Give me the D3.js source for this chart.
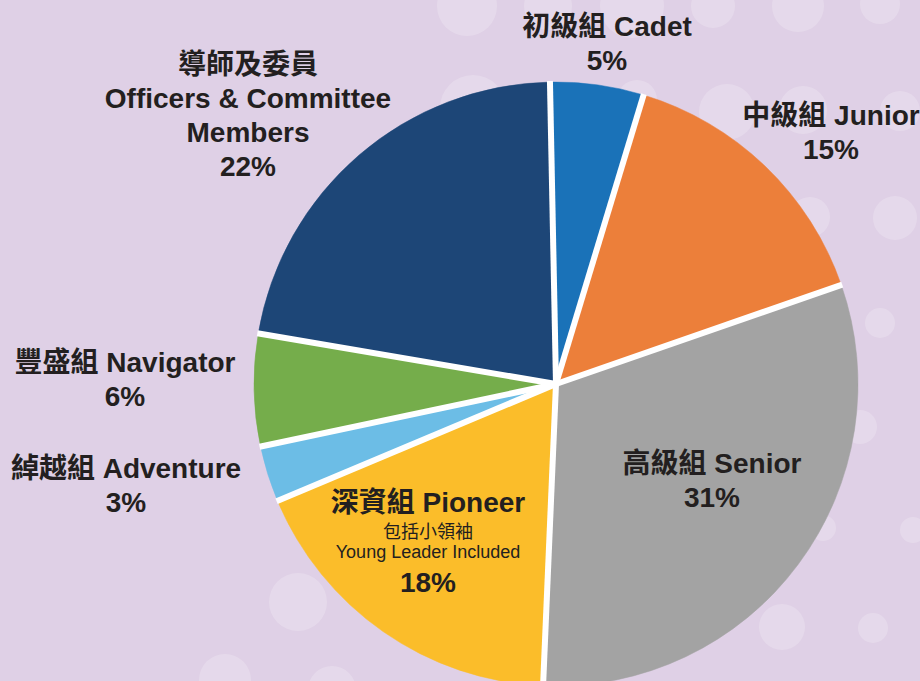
<!DOCTYPE html>
<html>
<head>
<meta charset="utf-8">
<script src="https://cdn.jsdelivr.net/npm/d3@7"></script>
<style>
  html, body { margin: 0; padding: 0; background: #dfd0e6; }
  svg { display: block; }
  text { font-family: "Liberation Sans", "Noto Sans CJK TC", sans-serif; fill: #231f20; }
</style>
</head>
<body>
<svg id="chart" width="920" height="681"></svg>
<script>
// membership share by section (percent)
const categories = ['Cadet', 'Junior', 'Senior', 'Pioneer', 'Adventure', 'Navigator', 'Officers'];
const namesZh = ['初級組', '中級組', '高級組', '深資組', '綽越組', '豐盛組', '導師及委員'];
const namesEn = ['Cadet', 'Junior', 'Senior', 'Pioneer', 'Adventure', 'Navigator', 'Officers & Committee Members'];
const values = [5, 15, 31, 18, 3, 6, 22];
const colors = ['#1a72b8', '#ec7f3a', '#a3a3a3', '#fbbd2a', '#6cbde6', '#75ad4b', '#1d4677'];

// decorative background bubbles
const bubbles = [
  [467, 6, 30], [548, 6, 24], [632, 6, 32], [713, 6, 22], [798, 6, 26], [880, 4, 20],
  [473, 108, 33], [637, 100, 20], [727, 112, 28], [803, 110, 24], [900, 111, 20],
  [810, 217, 20], [895, 218, 22], [880, 323, 15], [860, 427, 17], [823, 528, 13],
  [913, 530, 13], [782, 627, 23], [873, 628, 15], [298, 602, 29], [225, 680, 26], [332, 690, 24]
];

const W = 920, H = 681;
const cx = 556, cy = 384, R = 302;

const svg = d3.select('#chart');

svg.append('rect').attr('width', W).attr('height', H).attr('fill', '#dfd0e6');

svg.append('g')
  .selectAll('circle')
  .data(bubbles)
  .enter()
  .append('circle')
  .attr('cx', d => d[0])
  .attr('cy', d => d[1])
  .attr('r', d => d[2])
  .attr('fill', '#ffffff')
  .attr('fill-opacity', 0.2);

const rows = categories.map((c, i) => ({ key: c, value: values[i], color: colors[i], zh: namesZh[i], en: namesEn[i] }));

// pie starts a little left of 12 o'clock
const start = -0.02;
const pie = d3.pie().sort(null).value(d => d.value).startAngle(start).endAngle(start + 2 * Math.PI);
const arc = d3.arc().innerRadius(0).outerRadius(R);
const arcs = pie(rows);

const g = svg.append('g').attr('transform', `translate(${cx},${cy})`);

g.selectAll('path')
  .data(arcs)
  .enter()
  .append('path')
  .attr('d', arc)
  .attr('fill', d => d.data.color)
  .attr('stroke', d => d.data.color)
  .attr('stroke-width', 0.5);

// white separators between slices, no outline on the rim
g.selectAll('line.sep')
  .data(arcs)
  .enter()
  .append('line')
  .attr('class', 'sep')
  .attr('x1', 0)
  .attr('y1', 0)
  .attr('x2', d => Math.sin(d.startAngle) * (R + 1))
  .attr('y2', d => -Math.cos(d.startAngle) * (R + 1))
  .attr('stroke', '#ffffff')
  .attr('stroke-width', 6);

// label layout: anchor x and first baseline
const labelPos = {
  Cadet: { x: 607, y: 36 },
  Junior: { x: 831, y: 125 },
  Senior: { x: 712, y: 473 },
  Pioneer: { x: 428, y: 512 },
  Adventure: { x: 126, y: 478 },
  Navigator: { x: 125, y: 372 },
  Officers: { x: 248, y: 74 }
};

function labelLines(d) {
  const pct = d.value + '%';
  if (d.key === 'Officers') {
    return [
      { t: d.zh, size: 28, w: 700, dy: 0 },
      { t: 'Officers & Committee', size: 28, w: 700, dy: 34 },
      { t: 'Members', size: 28, w: 700, dy: 34 },
      { t: pct, size: 28, w: 700, dy: 34 }
    ];
  }
  if (d.key === 'Pioneer') {
    return [
      { t: d.zh + ' ' + d.en, size: 28, w: 700, dy: 0 },
      { t: '包括小領袖', size: 18, w: 400, dy: 26 },
      { t: 'Young Leader Included', size: 18, w: 400, dy: 20 },
      { t: pct, size: 28, w: 700, dy: 34 }
    ];
  }
  return [
    { t: d.zh + ' ' + d.en, size: 28, w: 700, dy: 0 },
    { t: pct, size: 28, w: 700, dy: 34 }
  ];
}

const labels = svg.append('g')
  .selectAll('text')
  .data(rows)
  .enter()
  .append('text')
  .attr('text-anchor', 'middle')
  .attr('x', d => labelPos[d.key].x)
  .attr('y', d => labelPos[d.key].y);

labels.each(function (d) {
  const el = d3.select(this);
  const p = labelPos[d.key];
  labelLines(d).forEach(line => {
    el.append('tspan')
      .attr('x', p.x)
      .attr('dy', line.dy)
      .style('font-size', line.size + 'px')
      .style('font-weight', line.w)
      .text(line.t);
  });
});
</script>
</body>
</html>
